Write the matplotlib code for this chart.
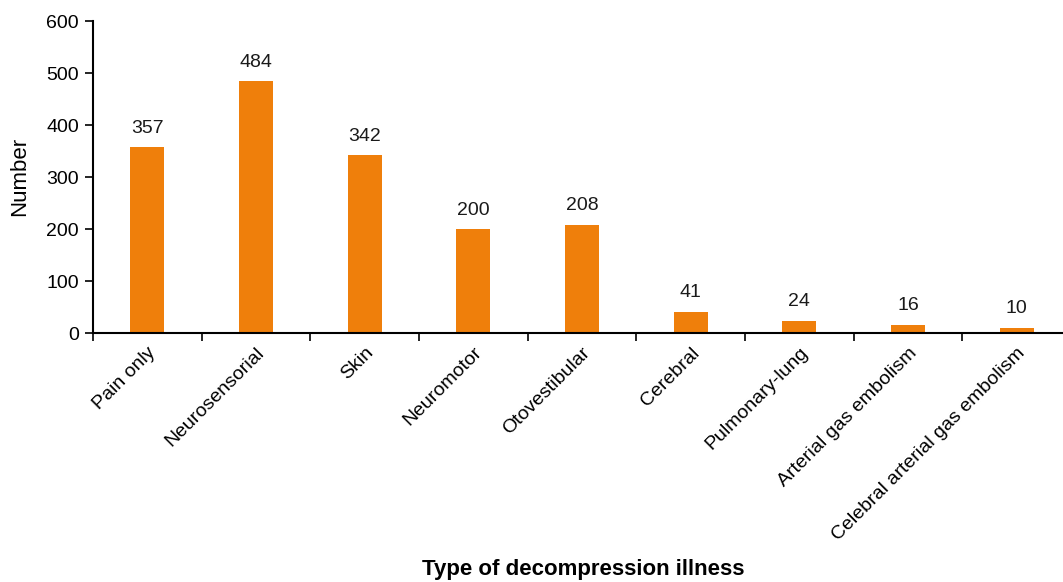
import matplotlib
matplotlib.use("Agg")
import matplotlib.pyplot as plt
import numpy as np

categories = ["Pain only", "Neurosensorial", "Skin", "Neuromotor", "Otovestibular",
              "Cerebral", "Pulmonary-lung", "Arterial gas embolism",
              "Celebral arterial gas embolism"]
values = [357, 484, 342, 200, 208, 41, 24, 16, 10]
yticks = [0, 100, 200, 300, 400, 500, 600]

plt.rcParams['font.family'] = ['Liberation Sans', 'DejaVu Sans']

W, H = 1063, 582
fig = plt.figure(figsize=(W / 100, H / 100), dpi=100)
left, right, top, bottom = 93, 1071, 21, 333
ax = fig.add_axes([left / W, 1 - bottom / H, (right - left) / W, (bottom - top) / H])

x = np.arange(len(categories))
ax.bar(x, values, width=0.31, color="#EF7F0B", zorder=2)
for xi, v in zip(x, values):
    ax.text(xi, v + 20, str(v), ha="center", va="bottom", fontsize=14, color="#1a1a1a")

ax.set_xlim(-0.5, len(categories) - 0.5)
ax.set_ylim(0, 600)
ax.set_yticks(yticks)
ax.set_yticklabels([str(t) for t in yticks], fontsize=14)
ax.set_xticks(x)
ax.set_xticklabels(categories, rotation=45, ha="right", rotation_mode="anchor", fontsize=14)
ax.tick_params(axis="x", which="major", length=0, pad=8)
ax.set_xticks(np.arange(len(categories) + 1) - 0.5, minor=True)
ax.tick_params(axis="x", which="minor", length=6, width=1.2, direction="out")
ax.tick_params(axis="y", length=6, width=1.2, direction="out", pad=4)

for s in ["top", "right"]:
    ax.spines[s].set_visible(False)
for s in ["left", "bottom"]:
    ax.spines[s].set_linewidth(1.5)

fig.text(19.5 / W, 1 - 176 / H, "Number", rotation=90, ha="center", va="center", fontsize=16)
fig.text(583 / W, 1 - 570 / H, "Type of decompression illness", ha="center", va="center",
         fontsize=16, fontweight="bold")

fig.savefig("out.png", dpi=100)
